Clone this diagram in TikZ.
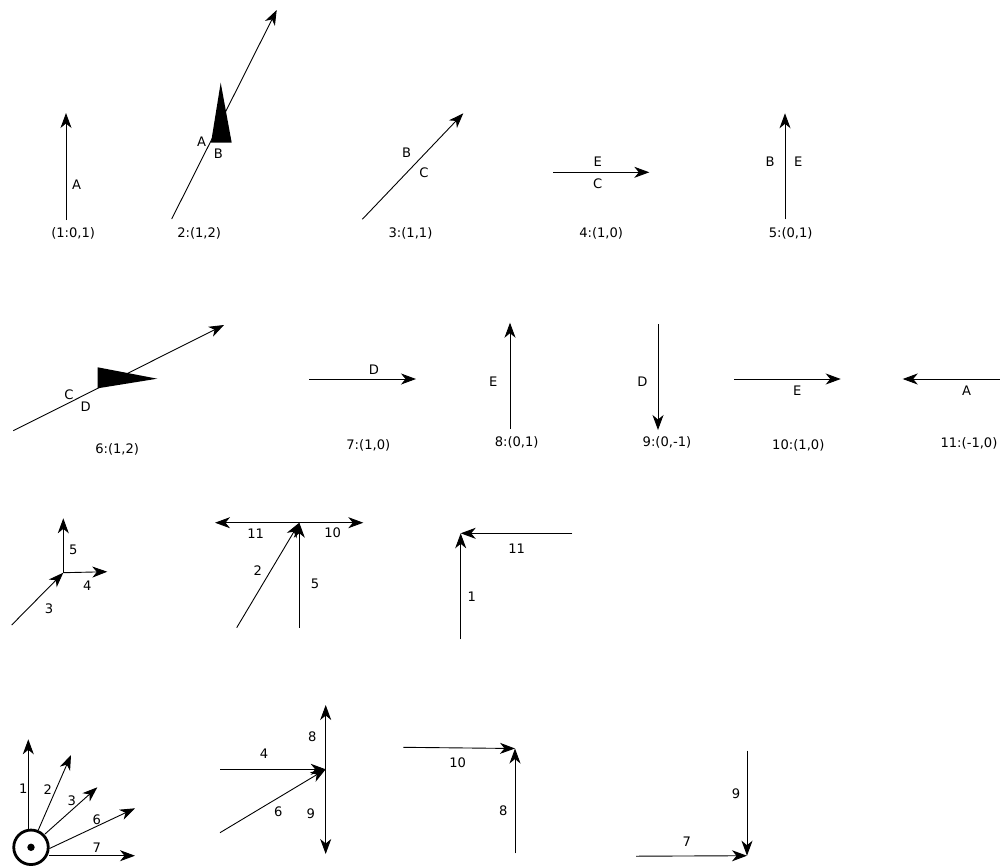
\documentclass[tikz,border=0pt]{standalone}
\usepackage{fontspec}
\setmainfont{DejaVu Sans}
\usetikzlibrary{arrows.meta}
\newcommand{\lblfont}{\fontsize{13.1}{15}\selectfont}
\begin{document}
\begin{tikzpicture}[x=1pt,y=-1pt,
  vec/.style={draw, line width=0.9pt, -{Stealth[length=15pt,width=11pt,inset=4.5pt]}},
  lab/.style={font=\lblfont, inner sep=0pt, anchor=center},
  tri/.style={fill=black, draw=none}]
\useasboundingbox (0,0) rectangle (1000,867);

% ---------- Row 1 ----------
% 1
\coordinate (r1s) at (66,220); \coordinate (r1e) at (66,113);
\draw[vec] (r1s) -- (r1e);
\node[lab] (r1A) at (76.7,185) {A};
\node[lab] (r1c) at (73.2,233) {(1:0,1)};
% 2
\coordinate (r2s) at (171.7,219); \coordinate (r2e) at (276.7,10);
\draw[vec] (r2s) -- (r2e);
\coordinate (t2a) at (220.7,82.7); \coordinate (t2b) at (211,142.7); \coordinate (t2c) at (231.7,142.7);
\fill[tri] (t2a) -- (t2b) -- (t2c) -- cycle;
\node[lab] (r2A) at (201.7,141.7) {A};
\node[lab] (r2B) at (218.3,154) {B};
\node[lab] (r2c) at (199.2,233) {2:(1,2)};
% 3
\coordinate (r3s) at (362.3,219.3); \coordinate (r3e) at (463.3,113.3);
\draw[vec] (r3s) -- (r3e);
\node[lab] (r3B) at (406.7,152.7) {B};
\node[lab] (r3C) at (424,172.7) {C};
\node[lab] (r3c) at (410.5,233) {3:(1,1)};
% 4
\coordinate (r4s) at (553.3,172.3); \coordinate (r4e) at (649.3,172.3);
\draw[vec] (r4s) -- (r4e);
\node[lab] (r4E) at (597.7,162) {E};
\node[lab] (r4C) at (597.7,184) {C};
\node[lab] (r4c) at (601.2,233) {4:(1,0)};
% 5
\coordinate (r5s) at (785,219.3); \coordinate (r5e) at (785,113.3);
\draw[vec] (r5s) -- (r5e);
\node[lab] (r5B) at (770,161.7) {B};
\node[lab] (r5E) at (798.3,162) {E};
\node[lab] (r5c) at (790.7,233) {5:(0,1)};

% ---------- Row 2 ----------
% 6
\coordinate (r6s) at (13.3,430.7); \coordinate (r6e) at (224,325);
\draw[vec] (r6s) -- (r6e);
\coordinate (t6a) at (157.3,378.7); \coordinate (t6b) at (97.7,367.3); \coordinate (t6c) at (97.7,388.3);
\fill[tri] (t6a) -- (t6b) -- (t6c) -- cycle;
\node[lab] (r6C) at (69,395) {C};
\node[lab] (r6D) at (85.7,406.7) {D};
\node[lab] (r6c) at (117.2,449.3) {6:(1,2)};
% 7
\coordinate (r7s) at (309.3,379); \coordinate (r7e) at (416,379);
\draw[vec] (r7s) -- (r7e);
\node[lab] (r7D) at (374,370) {D};
\node[lab] (r7c) at (368.3,445) {7:(1,0)};
% 8
\coordinate (r8s) at (510,429); \coordinate (r8e) at (510,322.7);
\draw[vec] (r8s) -- (r8e);
\node[lab] (r8E) at (493.3,381.7) {E};
\node[lab] (r8c) at (516.7,442.3) {8:(0,1)};
% 9
\coordinate (r9s) at (658,324); \coordinate (r9e) at (658,430);
\draw[vec] (r9s) -- (r9e);
\node[lab] (r9D) at (642.3,381.7) {D};
\node[lab] (r9c) at (667,442.3) {9:(0,-1)};
% 10
\coordinate (r10s) at (734.3,379); \coordinate (r10e) at (840.7,379);
\draw[vec] (r10s) -- (r10e);
\node[lab] (r10E) at (797.3,391) {E};
\node[lab] (r10c) at (798.3,445) {10:(1,0)};
% 11
\coordinate (r11s) at (1000,379); \coordinate (r11e) at (902.7,379);
\draw[vec] (r11s) -- (r11e);
\node[lab] (r11A) at (966.7,390.7) {A};
\node[lab] (r11c) at (969,443.3) {11:(-1,0)};

% ---------- Row 3 ----------
% group A
\coordinate (gA) at (63.3,572.7);
\coordinate (gA3) at (11.7,625);
\coordinate (gA5) at (63.3,518.3);
\coordinate (gA4) at (107.3,571.7);
\draw[vec] (gA3) -- (gA);
\draw[vec] (gA) -- (gA5);
\draw[vec] (gA) -- (gA4);
\node[lab] (gAl5) at (73.3,550) {5};
\node[lab] (gAl4) at (87.3,585.7) {4};
\node[lab] (gAl3) at (49,609) {3};
% group B
\coordinate (gB) at (299.3,522.7);
\coordinate (gB11) at (215,522.7);
\coordinate (gB10) at (363.3,522.7);
\coordinate (gB2) at (236.7,627.7);
\coordinate (gB5) at (299.3,627.7);
\draw[vec] (gB) -- (gB11);
\draw[vec] (gB) -- (gB10);
\draw[vec] (gB2) -- (gB);
\draw[vec] (gB5) -- (gB);
\node[lab] (gBl11) at (255.7,534) {11};
\node[lab] (gBl10) at (332.7,532.3) {10};
\node[lab] (gBl2) at (257.7,570.7) {2};
\node[lab] (gBl5) at (315,584) {5};
% group C
\coordinate (gC) at (460.7,533.3);
\coordinate (gC1) at (460.7,639.3);
\coordinate (gC11) at (572.3,533.3);
\draw[vec] (gC1) -- (gC);
\draw[vec] (gC11) -- (gC);
\node[lab] (gCl11) at (516.7,549) {11};
\node[lab] (gCl1) at (471.7,596.7) {1};

% ---------- Row 4 ----------
% group D (circle fan)
\node[circle, draw, line width=2.8pt, minimum size=34.5pt, inner sep=0pt] (c) at (31,847.3) {};
\fill (c.center) circle (3.7pt);
\coordinate (d1s) at (28.3,829.3); \coordinate (d1e) at (28.3,739.3);
\coordinate (d2s) at (38.3,830);   \coordinate (d2e) at (71,755);
\coordinate (d3s) at (45,834);     \coordinate (d3e) at (97.3,787.3);
\coordinate (d6s) at (49.5,848.5); \coordinate (d6e) at (135,808.3);
\coordinate (d7s) at (49.3,855.7); \coordinate (d7e) at (135,855.7);
\draw[vec] (d1s) -- (d1e);
\draw[vec] (d2s) -- (d2e);
\draw[vec] (d3s) -- (d3e);
\draw[vec] (d6s) -- (d6e);
\draw[vec] (d7s) -- (d7e);
\node[lab] (dl1) at (23.3,789) {1};
\node[lab] (dl2) at (47.7,790) {2};
\node[lab] (dl3) at (71.7,800.7) {3};
\node[lab] (dl6) at (96.7,820) {6};
\node[lab] (dl7) at (96.7,847.3) {7};
% group E
\coordinate (gE) at (325.7,769.3);
\coordinate (gE8) at (325.7,705);
\coordinate (gE9) at (325.7,854);
\coordinate (gE4) at (220,769.3);
\coordinate (gE6) at (220,832.7);
\draw[vec] (gE) -- (gE8);
\draw[vec] (gE) -- (gE9);
\draw[vec] (gE4) -- (gE);
\draw[vec] (gE6) -- (gE);
\node[lab] (gEl8) at (312.3,736.7) {8};
\node[lab] (gEl4) at (264,753.3) {4};
\node[lab] (gEl6) at (278.3,811.7) {6};
\node[lab] (gEl9) at (310.7,813.3) {9};
% group F
\coordinate (gF) at (515,748.5);
\coordinate (gF10) at (403.3,747.3);
\coordinate (gF8) at (515,853.3);
\draw[vec] (gF10) -- (gF);
\draw[vec] (gF8) -- (gF);
\node[lab] (gFl10) at (457.7,762.7) {10};
\node[lab] (gFl8) at (503.3,811) {8};
% group G
\coordinate (gG) at (747,855.7);
\coordinate (gG9) at (747,750.7);
\coordinate (gG7) at (636,856.2);
\draw[vec] (gG9) -- (gG);
\draw[vec] (gG7) -- (gG);
\node[lab] (gGl9) at (736,794) {9};
\node[lab] (gGl7) at (686.7,841.7) {7};
\end{tikzpicture}
\end{document}
